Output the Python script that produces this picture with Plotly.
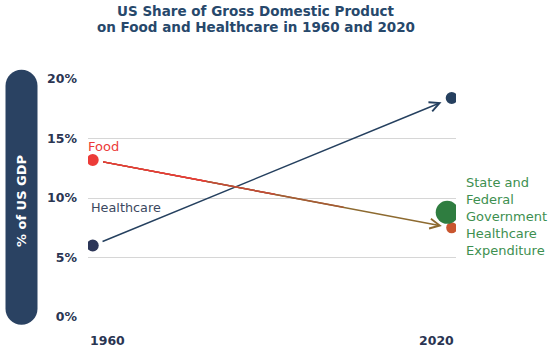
import plotly.graph_objects as go

# ---- data ----
years = [1960, 2020]
food_share = [13.2, 7.5]          # % of US GDP
healthcare_share = [6.0, 18.4]    # % of US GDP
gov_health_year = [2019.25]
gov_health_share = [8.8]
y_ticks = [0, 5, 10, 15, 20]
y_tick_labels = ["0%", "5%", "10%", "15%", "20%"]
x_tick_labels = ["1960", "2020"]
title_lines = ["US Share of Gross Domestic Product",
               "on Food and Healthcare in 1960 and 2020"]
gov_label = "State and<br>Federal<br>Government<br>Healthcare<br>Expenditure"

NAVY = "#27486b"
DARK = "#2a3552"
FONT = "DejaVu Sans"

fig = go.Figure()

# markers
fig.add_trace(go.Scatter(x=[years[0]], y=[food_share[0]], mode="markers",
                         marker=dict(size=12, color="#ec3b38"), hoverinfo="skip", showlegend=False))
fig.add_trace(go.Scatter(x=[years[1]], y=[food_share[1]], mode="markers",
                         marker=dict(size=11, color="#c9562f"), hoverinfo="skip", showlegend=False))
fig.add_trace(go.Scatter(x=[years[0]], y=[healthcare_share[0]], mode="markers",
                         marker=dict(size=12, color="#2c3658"), hoverinfo="skip", showlegend=False))
fig.add_trace(go.Scatter(x=[years[1]], y=[healthcare_share[1]], mode="markers",
                         marker=dict(size=12, color="#26405f"), hoverinfo="skip", showlegend=False))
fig.add_trace(go.Scatter(x=gov_health_year, y=gov_health_share, mode="markers",
                         marker=dict(size=23, color="#2f7d40"), hoverinfo="skip", showlegend=False))

annotations = []

# title (two lines)
for line, shift in zip(title_lines, [68, 52.5]):
    annotations.append(dict(x=0.4565, y=1, xref="paper", yref="paper", text=line, showarrow=False,
                            xanchor="center", yanchor="middle", yshift=shift,
                            font=dict(family=FONT, size=13.5, color=NAVY, weight="bold")))

# healthcare arrow
annotations.append(dict(x=years[1], y=healthcare_share[1], xref="x", yref="y",
                        ax=years[0], ay=healthcare_share[0], axref="x", ayref="y",
                        showarrow=True, arrowhead=5, arrowsize=1.3, arrowwidth=1.5,
                        arrowcolor="#25405f", standoff=11, startstandoff=9, text=""))
# food arrow (pseudo gradient red -> brown via layered standoffs)
food_layers = [("#8d6a30", 10, 1.3, 5), ("#a65a34", 110, 1.3, 0),
               ("#c44c38", 180, 1.3, 0), ("#ec3b38", 250, 1.3, 0)]
for col, so, sz, head in food_layers:
    annotations.append(dict(x=years[1], y=food_share[1], xref="x", yref="y",
                            ax=years[0], ay=food_share[0], axref="x", ayref="y",
                            showarrow=True, arrowhead=head, arrowsize=sz, arrowwidth=1.5,
                            arrowcolor=col, standoff=so, startstandoff=9, text=""))

# series labels
annotations.append(dict(x=0, y=14.3, xref="paper", yref="y", text="Food", showarrow=False,
                        xanchor="left", yanchor="middle", xshift=-2,
                        font=dict(family=FONT, size=13, color="#ec3b38")))
annotations.append(dict(x=0, y=9.2, xref="paper", yref="y", text="Healthcare", showarrow=False,
                        xanchor="left", yanchor="middle", xshift=1,
                        font=dict(family=FONT, size=12.8, color="#3b4860")))
annotations.append(dict(x=1, y=8.45, xref="paper", yref="y", text=gov_label, showarrow=False,
                        xanchor="left", yanchor="middle", align="left", xshift=8,
                        font=dict(family=FONT, size=13, color="#3d8f50")))

# x tick labels
annotations.append(dict(x=0, y=0, xref="paper", yref="paper", text=x_tick_labels[0], showarrow=False,
                        xanchor="left", yanchor="middle", yshift=-23,
                        font=dict(family=FONT, size=12.5, color=DARK, weight="bold")))
annotations.append(dict(x=1, y=0, xref="paper", yref="paper", text=x_tick_labels[1], showarrow=False,
                        xanchor="right", yanchor="middle", yshift=-23,
                        font=dict(family=FONT, size=12.5, color=DARK, weight="bold")))

# y axis title in pill
annotations.append(dict(x=0, y=0.485, xref="paper", yref="paper", text="% of US GDP", showarrow=False,
                        xanchor="center", yanchor="middle", textangle=-90, xshift=-66.5,
                        font=dict(family=FONT, size=13, color="white", weight="bold")))

# rounded pill (pixel coords relative to plot bottom-left)
L, R, B, T = -82.5, -50.5, -7.7, 247.3
r = (R - L) / 2
cx = (L + R) / 2
k = 0.5523 * r
pill = (f"M{L},{B + r} L{L},{T - r} "
        f"C{L},{T - r + k} {cx - k},{T} {cx},{T} "
        f"C{cx + k},{T} {R},{T - r + k} {R},{T - r} "
        f"L{R},{B + r} "
        f"C{R},{B + r - k} {cx + k},{B} {cx},{B} "
        f"C{cx - k},{B} {L},{B + r - k} {L},{B + r} Z")

fig.update_layout(
    width=550, height=349,
    margin=dict(l=88, r=94, t=79, b=32),
    paper_bgcolor="white", plot_bgcolor="white",
    xaxis=dict(range=[1959.21, 2020.72], showgrid=False, zeroline=False,
               showticklabels=False, showline=False, fixedrange=True),
    yaxis=dict(range=[0, 20], tickvals=y_ticks, ticktext=y_tick_labels,
               showgrid=True, gridcolor="#d6d6d6", gridwidth=1, zeroline=False,
               showline=False, ticks="", ticklabelstandoff=10,
               tickfont=dict(family=FONT, size=12.5, color=DARK, weight="bold")),
    annotations=annotations,
    shapes=[dict(type="path", path=pill, xref="paper", yref="paper",
                 xsizemode="pixel", ysizemode="pixel", xanchor=0, yanchor=0,
                 fillcolor="#2a4262", line=dict(width=0), layer="below")],
    showlegend=False,
)

fig.write_html("out.html", config={"displayModeBar": False},
               post_script="document.body.style.margin='0';document.body.style.overflow='hidden';")
